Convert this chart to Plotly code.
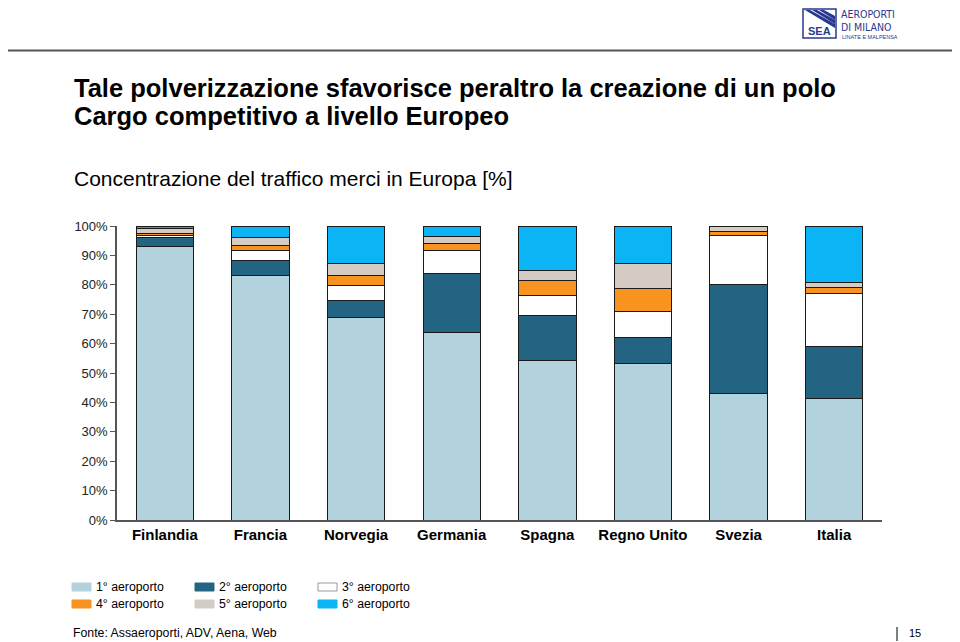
import plotly.graph_objects as go

countries = ["Finlandia", "Francia", "Norvegia", "Germania", "Spagna", "Regno Unito", "Svezia", "Italia"]
series_names = ["1° aeroporto", "2° aeroporto", "3° aeroporto", "4° aeroporto", "5° aeroporto", "6° aeroporto"]
ap1 = [93.0, 83.0, 68.9, 63.8, 54.1, 53.1, 42.9, 41.2]
ap2 = [3.0, 5.3, 5.7, 20.1, 15.5, 8.9, 37.1, 17.8]
ap3 = [0.7, 3.4, 5.0, 7.8, 6.8, 8.8, 16.7, 18.0]
ap4 = [0.8, 1.6, 3.4, 2.3, 5.0, 8.1, 1.6, 2.0]
ap5 = [1.6, 2.7, 4.1, 2.5, 3.5, 8.2, 1.7, 1.7]
ap6 = [0.9, 4.0, 12.9, 3.5, 15.1, 12.9, 0.0, 19.3]
series_values = [ap1, ap2, ap3, ap4, ap5, ap6]
colors = ["#b2d3de", "#236483", "#ffffff", "#f7931e", "#d4ccc4", "#0bb5f5"]
y_ticks = [0, 10, 20, 30, 40, 50, 60, 70, 80, 90, 100]
y_tick_labels = [f"{v}%" for v in y_ticks]

FONT = "Arial, Liberation Sans, sans-serif"
NARROW = "Liberation Sans Narrow, DejaVu Sans Condensed, Arial, sans-serif"

# page offset (browser body margin) compensation
OFF = 8
L, T, W, H = 117 - OFF, 226 - OFF, 765, 294
FIG_W, FIG_H = 960, 642

fig = go.Figure()
for name, vals, col in zip(series_names, series_values, colors):
    fig.add_trace(go.Bar(
        x=countries, y=vals, name=name,
        marker=dict(color=col, line=dict(color="#1a1a1a", width=1)),
        width=0.6, showlegend=False,
    ))

fig.update_layout(
    barmode="stack",
    width=FIG_W, height=FIG_H,
    margin=dict(l=L, r=FIG_W - L - W, t=T, b=FIG_H - T - H),
    paper_bgcolor="white", plot_bgcolor="white",
    font=dict(family=FONT, color="#000000"),
    xaxis=dict(
        showline=True, linecolor="#555555", linewidth=1.5,
        ticks="", tickfont=dict(size=15, family=FONT, color="#000000", weight="bold"),
        showgrid=False, range=[-0.5, 7.5],
    ),
    yaxis=dict(
        range=[0, 100], tickvals=y_ticks, ticktext=y_tick_labels,
        showline=True, linecolor="#555555", linewidth=1.5,
        ticks="outside", ticklen=5, tickcolor="#555555",
        tickfont=dict(size=13, family=FONT, color="#222222"),
        showgrid=False, zeroline=False,
    ),
)


def px(x):
    return (x - OFF - L) / W


def py(y):
    return (T + H - (y - OFF)) / H


shapes = []
annotations = []
# top rule
shapes.append(dict(type="line", xref="paper", yref="paper", x0=px(0), x1=px(960),
                   y0=py(50.5), y1=py(50.5), line=dict(color="#555555", width=2)))

annotations.append(dict(xref="paper", yref="paper", x=px(72), y=py(88), xanchor="left", yanchor="middle",
                        text="<b>Tale polverizzazione sfavorisce peraltro la creazione di un polo</b>",
                        showarrow=False, font=dict(size=25.5, family=FONT, color="#000000")))
annotations.append(dict(xref="paper", yref="paper", x=px(72), y=py(116), xanchor="left", yanchor="middle",
                        text="<b>Cargo competitivo a livello Europeo</b>",
                        showarrow=False, font=dict(size=25.5, family=FONT, color="#000000")))
annotations.append(dict(xref="paper", yref="paper", x=px(72), y=py(179), xanchor="left", yanchor="middle",
                        text="Concentrazione del traffico merci in Europa [%]",
                        showarrow=False, font=dict(size=21, family=FONT, color="#000000")))

# legend
leg_cols = [72, 195, 318]
leg_rows = [587, 604]
for i, (name, col) in enumerate(zip(series_names, colors)):
    r, c = divmod(i, 3)
    x0 = leg_cols[c]
    yc = leg_rows[r]
    shapes.append(dict(type="rect", xref="paper", yref="paper",
                       x0=px(x0), x1=px(x0 + 19), y0=py(yc + 4), y1=py(yc - 4),
                       fillcolor=col, line=dict(color="#999999" if col == "#ffffff" else col, width=1)))
    annotations.append(dict(xref="paper", yref="paper", x=px(x0 + 22), y=py(yc), xanchor="left", yanchor="middle",
                            text=name, showarrow=False, font=dict(size=12.3, family=FONT, color="#000000")))

annotations.append(dict(xref="paper", yref="paper", x=px(71), y=py(633), xanchor="left", yanchor="middle",
                        text="Fonte: Assaeroporti, ADV, Aena, Web", showarrow=False,
                        font=dict(size=12.3, family=FONT, color="#000000")))
shapes.append(dict(type="line", xref="paper", yref="paper", x0=px(897), x1=px(897), y0=py(641), y1=py(627),
                   line=dict(color="#555555", width=1.5)))
annotations.append(dict(xref="paper", yref="paper", x=px(907), y=py(633), xanchor="left", yanchor="middle",
                        text="15", showarrow=False, font=dict(size=11, family=FONT, color="#000000")))

# logo
NAVY = "#2a3990"
shapes.append(dict(type="rect", xref="paper", yref="paper", x0=px(803), x1=px(836), y0=py(38), y1=py(9),
                   fillcolor="white", line=dict(color=NAVY, width=1.5)))
for k in range(3):
    shapes.append(dict(type="path", xref="paper", yref="paper",
                       path=f"M {px(805 + k*7)},{py(10)} L {px(810 + k*7)},{py(10)} L {px(835)},{py(24 - k*4)} L {px(835)},{py(28 - k*4)} Z",
                       fillcolor=NAVY, line=dict(width=0)))
annotations.append(dict(xref="paper", yref="paper", x=px(819.5), y=py(31), xanchor="center", yanchor="middle",
                        text="<b>SEA</b>", showarrow=False, font=dict(size=11, family=FONT, color=NAVY)))
annotations.append(dict(xref="paper", yref="paper", x=px(839), y=py(14.5), xanchor="left", yanchor="middle",
                        text="AEROPORTI", showarrow=False, font=dict(size=10.5, family=NARROW, color=NAVY)))
annotations.append(dict(xref="paper", yref="paper", x=px(839), y=py(26.5), xanchor="left", yanchor="middle",
                        text="DI MILANO", showarrow=False, font=dict(size=10.5, family=NARROW, color=NAVY)))
annotations.append(dict(xref="paper", yref="paper", x=px(840), y=py(36.5), xanchor="left", yanchor="middle",
                        text="LINATE E MALPENSA", showarrow=False, font=dict(size=5.5, family=FONT, color=NAVY)))

fig.update_layout(shapes=shapes, annotations=annotations)
fig.write_html("out.html")
